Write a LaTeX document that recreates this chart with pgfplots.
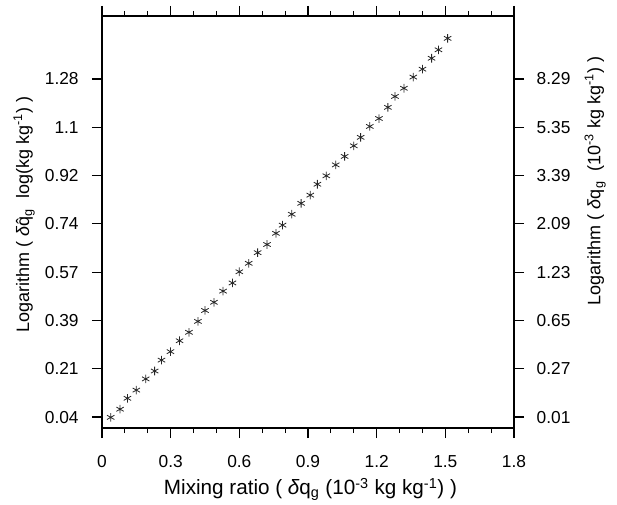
\documentclass[border=0pt]{standalone}
\usepackage{pgfplots}
\pgfplotsset{compat=1.18}
\usepackage{fontspec}
\setmainfont{Liberation Sans}
\pgfplotstableread{
x y
0.038 0.039
0.079 0.069
0.111 0.109
0.150 0.139
0.191 0.180
0.230 0.209
0.260 0.249
0.299 0.280
0.339 0.320
0.380 0.351
0.419 0.391
0.450 0.431
0.489 0.461
0.529 0.502
0.570 0.532
0.600 0.573
0.641 0.604
0.680 0.643
0.721 0.673
0.760 0.714
0.789 0.744
0.829 0.784
0.870 0.824
0.910 0.854
0.941 0.894
0.980 0.925
1.021 0.965
1.060 0.996
1.100 1.035
1.130 1.066
1.170 1.106
1.210 1.135
1.249 1.176
1.280 1.216
1.319 1.246
1.360 1.287
1.400 1.316
1.440 1.356
1.470 1.387
1.510 1.429
}\datatable
\begin{document}
\begin{tikzpicture}
\useasboundingbox (-76.5pt,-57pt) rectangle (386.25pt,321pt);
\pgfplotsset{
  common/.style={
    scale only axis, width=309pt, height=309pt,
    at={(0,0)}, anchor=south west,
    xmin=0, xmax=1.8, ymin=0, ymax=1.511,
    tick align=outside,
    major tick length=7.5pt, minor tick length=3.8pt,
    every tick/.style={black, line width=0.9pt},
    axis line style={line width=1pt},
    ytick={0.04,0.21714,0.39429,0.57143,0.74857,0.92571,1.10286,1.28},
    tick label style={font=\fontsize{13}{15}\selectfont},
    label style={font=\fontsize{13.5}{16}\selectfont},
    /pgf/number format/assume math mode=true,
  }
}
\begin{axis}[common,
  xtick={0,0.3,0.6,0.9,1.2,1.5,1.8},
  xticklabels={0,0.3,0.6,0.9,1.2,1.5,1.8},
  minor x tick num=2,
  xtick pos=both, xticklabel pos=bottom,
  ytick pos=left,
  yticklabels={0.04,0.21,0.39,0.57,0.74,0.92,1.1,1.28},
  xticklabel style={yshift=-9.5pt},
  yticklabel style={xshift=-6.5pt},
  xlabel={Mixing ratio ( {\itshape δ}q\textsubscript{g} (10\textsuperscript{-3} kg kg\textsuperscript{-1}) )},
  ylabel={Logarithm ( {\itshape δ}\^{q}\textsubscript{g}\ \ log(kg kg\textsuperscript{-1}) )},
  xlabel style={at={(axis description cs:0.506,-0.149)}, anchor=center, font=\fontsize{15.5}{18}\selectfont},
  ylabel style={at={(axis description cs:-0.189,0.518)}, anchor=center},
]
\addplot[only marks, mark=asterisk, mark size=3.2pt, black!85, line width=0.6pt] table[x=x,y=y]{\datatable};
\end{axis}
\begin{axis}[common,
  axis x line=none, axis y line*=right,
  ytick pos=right, yticklabel pos=right,
  yticklabels={0.01,0.27,0.65,1.23,2.09,3.39,5.35,8.29},
  yticklabel style={xshift=6pt},
  ylabel={Logarithm ( {\itshape δ}q\textsubscript{g}\ \ (10\textsuperscript{-3} kg kg\textsuperscript{-1}) )},
  ylabel style={at={(axis description cs:1.197,0.600)}, anchor=center, rotate=0},
]
\addplot[draw=none] coordinates {(0,0)};
\end{axis}
\end{tikzpicture}
\end{document}
